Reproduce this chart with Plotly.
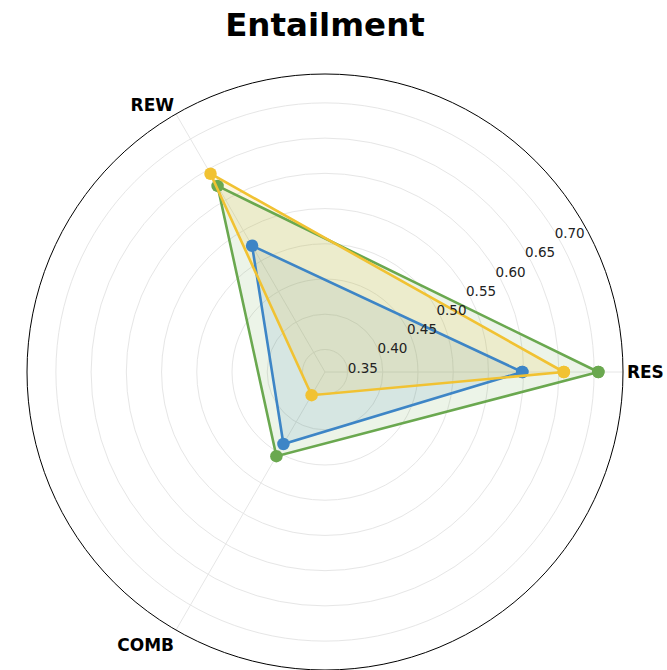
import plotly.graph_objects as go

categories = ["RES", "REW", "COMB"]
series_names = ["Model A", "Model B", "Model C"]
blue_values = [0.598, 0.525, 0.436]
green_values = [0.706, 0.623, 0.456]
yellow_values = [0.657, 0.643, 0.356]
radial_ticks = [0.35, 0.40, 0.45, 0.50, 0.55, 0.60, 0.65, 0.70]

series = [
    (series_names[0], blue_values, "#3d85c6", "rgba(61,133,198,0.13)"),
    (series_names[2], green_values, "#6aa84f", "rgba(106,168,79,0.13)"),
    (series_names[1], yellow_values, "#f1c232", "rgba(241,194,50,0.15)"),
]

fig = go.Figure()
# fills first
for name, vals, col, fillcol in series:
    fig.add_trace(go.Scatterpolar(
        r=vals + vals[:1],
        theta=categories + categories[:1],
        name=name,
        mode="none",
        fill="toself",
        fillcolor=fillcol,
        hoverinfo="skip",
    ))
# lines and markers on top
for name, vals, col, fillcol in series:
    fig.add_trace(go.Scatterpolar(
        r=vals + vals[:1],
        theta=categories + categories[:1],
        name=name,
        mode="lines+markers",
        line=dict(color=col, width=2.6),
        marker=dict(color=col, size=12.5),
    ))

fig.update_layout(
    width=667, height=670,
    paper_bgcolor="white",
    showlegend=False,
    margin=dict(l=27, r=44, t=74, b=0),
    title=dict(text="<b>Entailment</b>", x=0.5, xref="paper", xanchor="center",
               y=1 - 25 / 670, yref="container", yanchor="middle",
               font=dict(family="DejaVu Sans", size=32.5, color="black")),
    polar=dict(
        bgcolor="white",
        angularaxis=dict(
            rotation=0, direction="counterclockwise",
            showline=True, linecolor="black", linewidth=1,
            gridcolor="#e6e6e6", gridwidth=1,
            ticks="",
            tickfont=dict(family="DejaVu Sans", size=17, color="black", weight="bold"),
        ),
        radialaxis=dict(
            range=[0.318, 0.741],
            tickvals=radial_ticks,
            tickformat=".2f",
            showline=False, ticks="",
            angle=33, tickangle=33, side="clockwise",
            gridcolor="#e6e6e6", gridwidth=1,
            tickfont=dict(family="DejaVu Sans", size=13.5, color="#222222"),
        ),
    ),
)

fig.write_html("out.html")
